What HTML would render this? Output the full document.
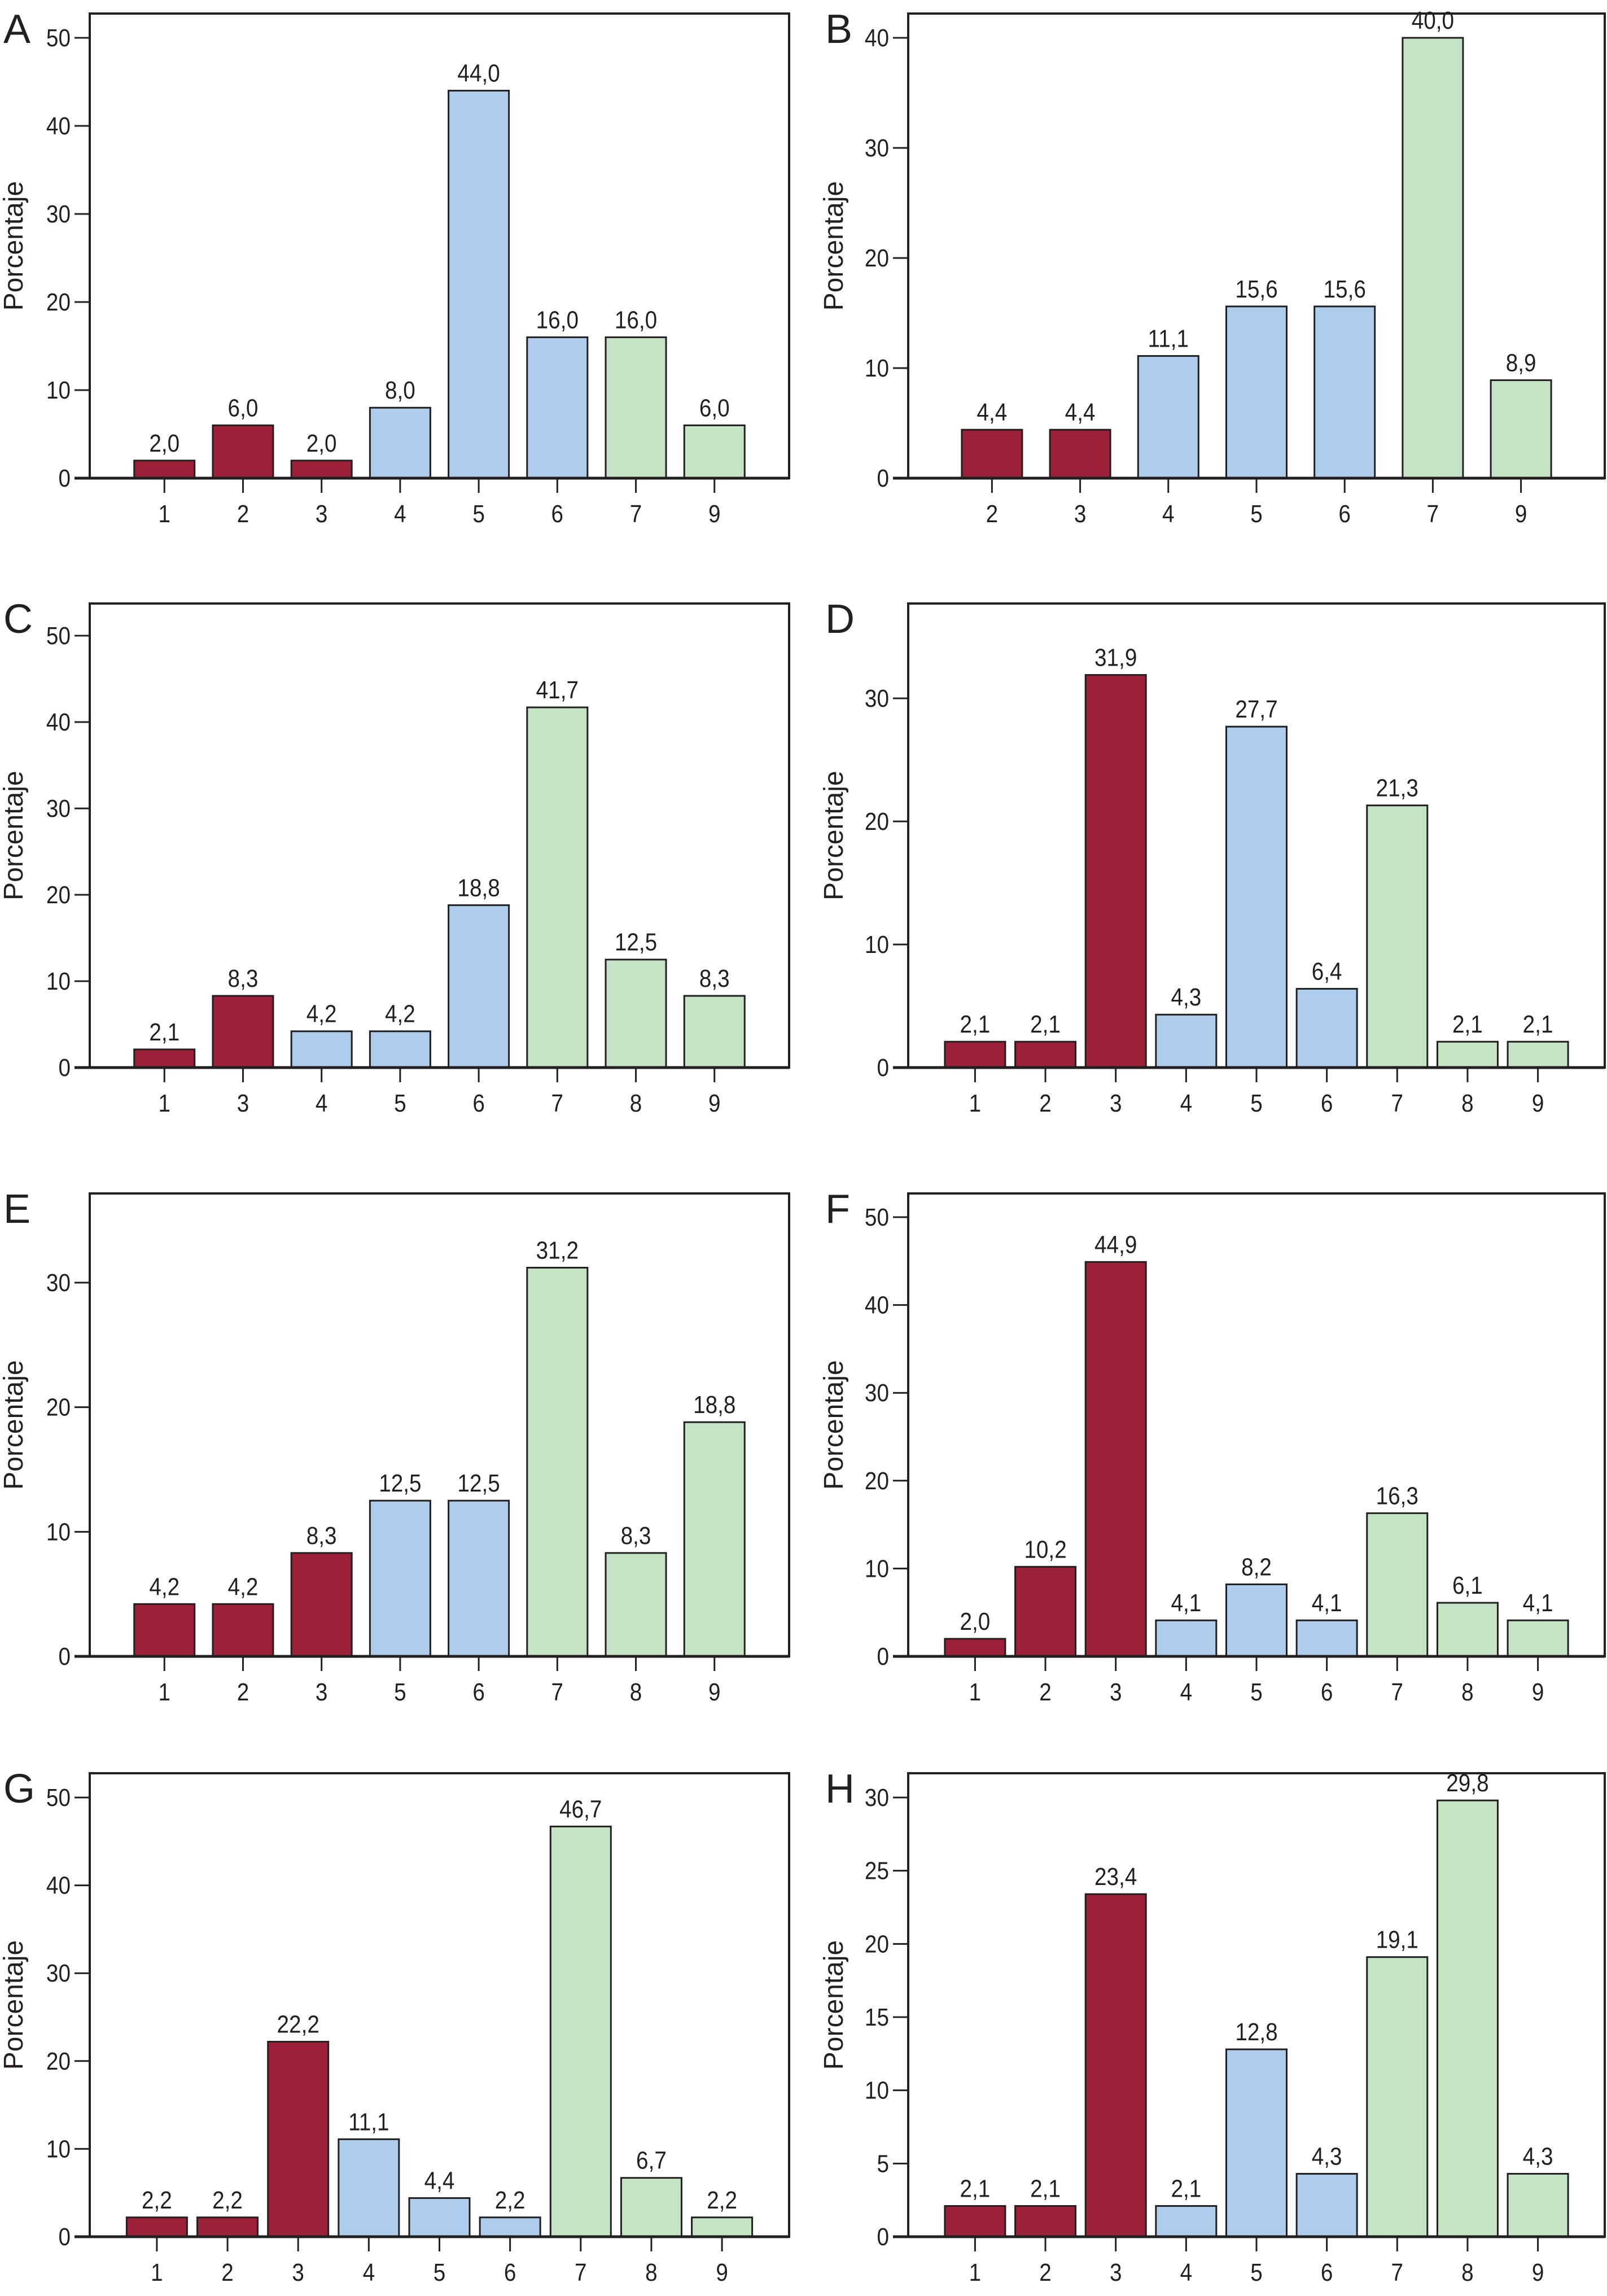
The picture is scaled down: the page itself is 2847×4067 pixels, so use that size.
<!DOCTYPE html>
<html><head><meta charset="utf-8"><style>
html,body{margin:0;padding:0;background:#fff}
svg{display:block}
text{font-family:"Liberation Sans",sans-serif;fill:#231f20}
</style></head><body>
<svg id="fig" width="2847" height="4067" viewBox="0 0 2847 4067" xmlns="http://www.w3.org/2000/svg"></svg>
<script>
const letters = ["A","B","C","D","E","F","G","H"];
const catsA = ["1","2","3","4","5","6","7","9"];
const valsA = [2.0,6.0,2.0,8.0,44.0,16.0,16.0,6.0];
const grpA = ["r","r","r","b","b","b","g","g"];
const catsB = ["2","3","4","5","6","7","9"];
const valsB = [4.4,4.4,11.1,15.6,15.6,40.0,8.9];
const grpB = ["r","r","b","b","b","g","g"];
const catsC = ["1","3","4","5","6","7","8","9"];
const valsC = [2.1,8.3,4.2,4.2,18.8,41.7,12.5,8.3];
const grpC = ["r","r","b","b","b","g","g","g"];
const catsD = ["1","2","3","4","5","6","7","8","9"];
const valsD = [2.1,2.1,31.9,4.3,27.7,6.4,21.3,2.1,2.1];
const grpD = ["r","r","r","b","b","b","g","g","g"];
const catsE = ["1","2","3","5","6","7","8","9"];
const valsE = [4.2,4.2,8.3,12.5,12.5,31.2,8.3,18.8];
const grpE = ["r","r","r","b","b","g","g","g"];
const catsF = ["1","2","3","4","5","6","7","8","9"];
const valsF = [2.0,10.2,44.9,4.1,8.2,4.1,16.3,6.1,4.1];
const grpF = ["r","r","r","b","b","b","g","g","g"];
const catsG = ["1","2","3","4","5","6","7","8","9"];
const valsG = [2.2,2.2,22.2,11.1,4.4,2.2,46.7,6.7,2.2];
const grpG = ["r","r","r","b","b","b","g","g","g"];
const catsH = ["1","2","3","4","5","6","7","8","9"];
const valsH = [2.1,2.1,23.4,2.1,12.8,4.3,19.1,29.8,4.3];
const grpH = ["r","r","r","b","b","b","g","g","g"];
const ticksA = [0,10,20,30,40,50];
const ticksB = [0,10,20,30,40];
const ticksC = [0,10,20,30,40,50];
const ticksD = [0,10,20,30];
const ticksE = [0,10,20,30];
const ticksF = [0,10,20,30,40,50];
const ticksG = [0,10,20,30,40,50];
const ticksH = [0,5,10,15,20,25,30];

const NS="http://www.w3.org/2000/svg";
const svg=document.getElementById('fig');
const colors={r:"#9c2038",b:"#aecdec",g:"#c5e4c5"};
function el(tag,attrs,parent){const e=document.createElementNS(NS,tag);for(const k in attrs)e.setAttribute(k,attrs[k]);(parent||svg).appendChild(e);return e;}
const fmt=v=>v.toFixed(1).replace('.',',');

const cols=[[159,1398],[1609,2843]];
const rows=[[24,847],[1069,1891],[2114,2934],[3141,3962]];
const topOff=[43,43,57,168,158,42,43,43];
const panels=[[catsA,valsA,grpA,ticksA],[catsB,valsB,grpB,ticksB],[catsC,valsC,grpC,ticksC],[catsD,valsD,grpD,ticksD],[catsE,valsE,grpE,ticksE],[catsF,valsF,grpF,ticksF],[catsG,valsG,grpG,ticksG],[catsH,valsH,grpH,ticksH]];

panels.forEach((p,i)=>{
  const [cats,vals,grp,ticks]=p;
  const [x0,x1]=cols[i%2];const [top,axis]=rows[Math.floor(i/2)];
  const g=el('g',{});
  
  
  const topTick=ticks[ticks.length-1];
  const ty=top+topOff[i];
  const y=v=>axis-v*(axis-ty)/topTick;
  const n=cats.length;const W=x1-x0;const s=W/(n-1+1.9);const m=0.95*s;
  const x=j=>x0+m+j*s;
  const lt=el('text',{x:(i%2?1462:6),y:top+52,'font-size':72},g);lt.textContent=letters[i];
  
  
  const yl=el('text',{transform:`translate(${i%2?1493:40},${(top+axis)/2}) rotate(-90)`,'text-anchor':'middle','font-size':48},g);yl.textContent='Porcentaje';
  
  
  const box=el('rect',{x:x0,y:top,width:W,height:axis-top,fill:'none',stroke:'#231f20','stroke-width':4},g);
  
  
  ticks.forEach(t=>{
    el('line',{x1:x0-27,x2:x0,y1:y(t),y2:y(t),stroke:'#231f20','stroke-width':3},g);
    const tx=el('text',{x:x0-34,y:y(t)+15,'text-anchor':'end','font-size':44,transform:`translate(${x0-34},0) scale(0.88,1) translate(${-(x0-34)},0)`},g);tx.textContent=t;
    
    
  });
  cats.forEach((c,j)=>{
    const cx=x(j);const bw=107;
    const b=el('rect',{x:cx-bw/2,y:y(vals[j]),width:bw,height:axis-y(vals[j]),fill:colors[grp[j]],stroke:'#231f20','stroke-width':3},g);
    
    
    const vl=el('text',{x:cx,y:y(vals[j])-16,'text-anchor':'middle','font-size':44,transform:`translate(${cx},0) scale(0.88,1) translate(${-cx},0)`},g);vl.textContent=fmt(vals[j]);
    
    
    el('line',{x1:cx,x2:cx,y1:axis,y2:axis+26,stroke:'#231f20','stroke-width':3},g);
    const xl=el('text',{x:cx,y:axis+78,'text-anchor':'middle','font-size':44,transform:`translate(${cx},0) scale(0.88,1) translate(${-cx},0)`},g);xl.textContent=c;
    
    
  });
  el('line',{x1:x0-27,x2:x1,y1:axis,y2:axis,stroke:'#231f20','stroke-width':5},g);
});
</script>
</body></html>
